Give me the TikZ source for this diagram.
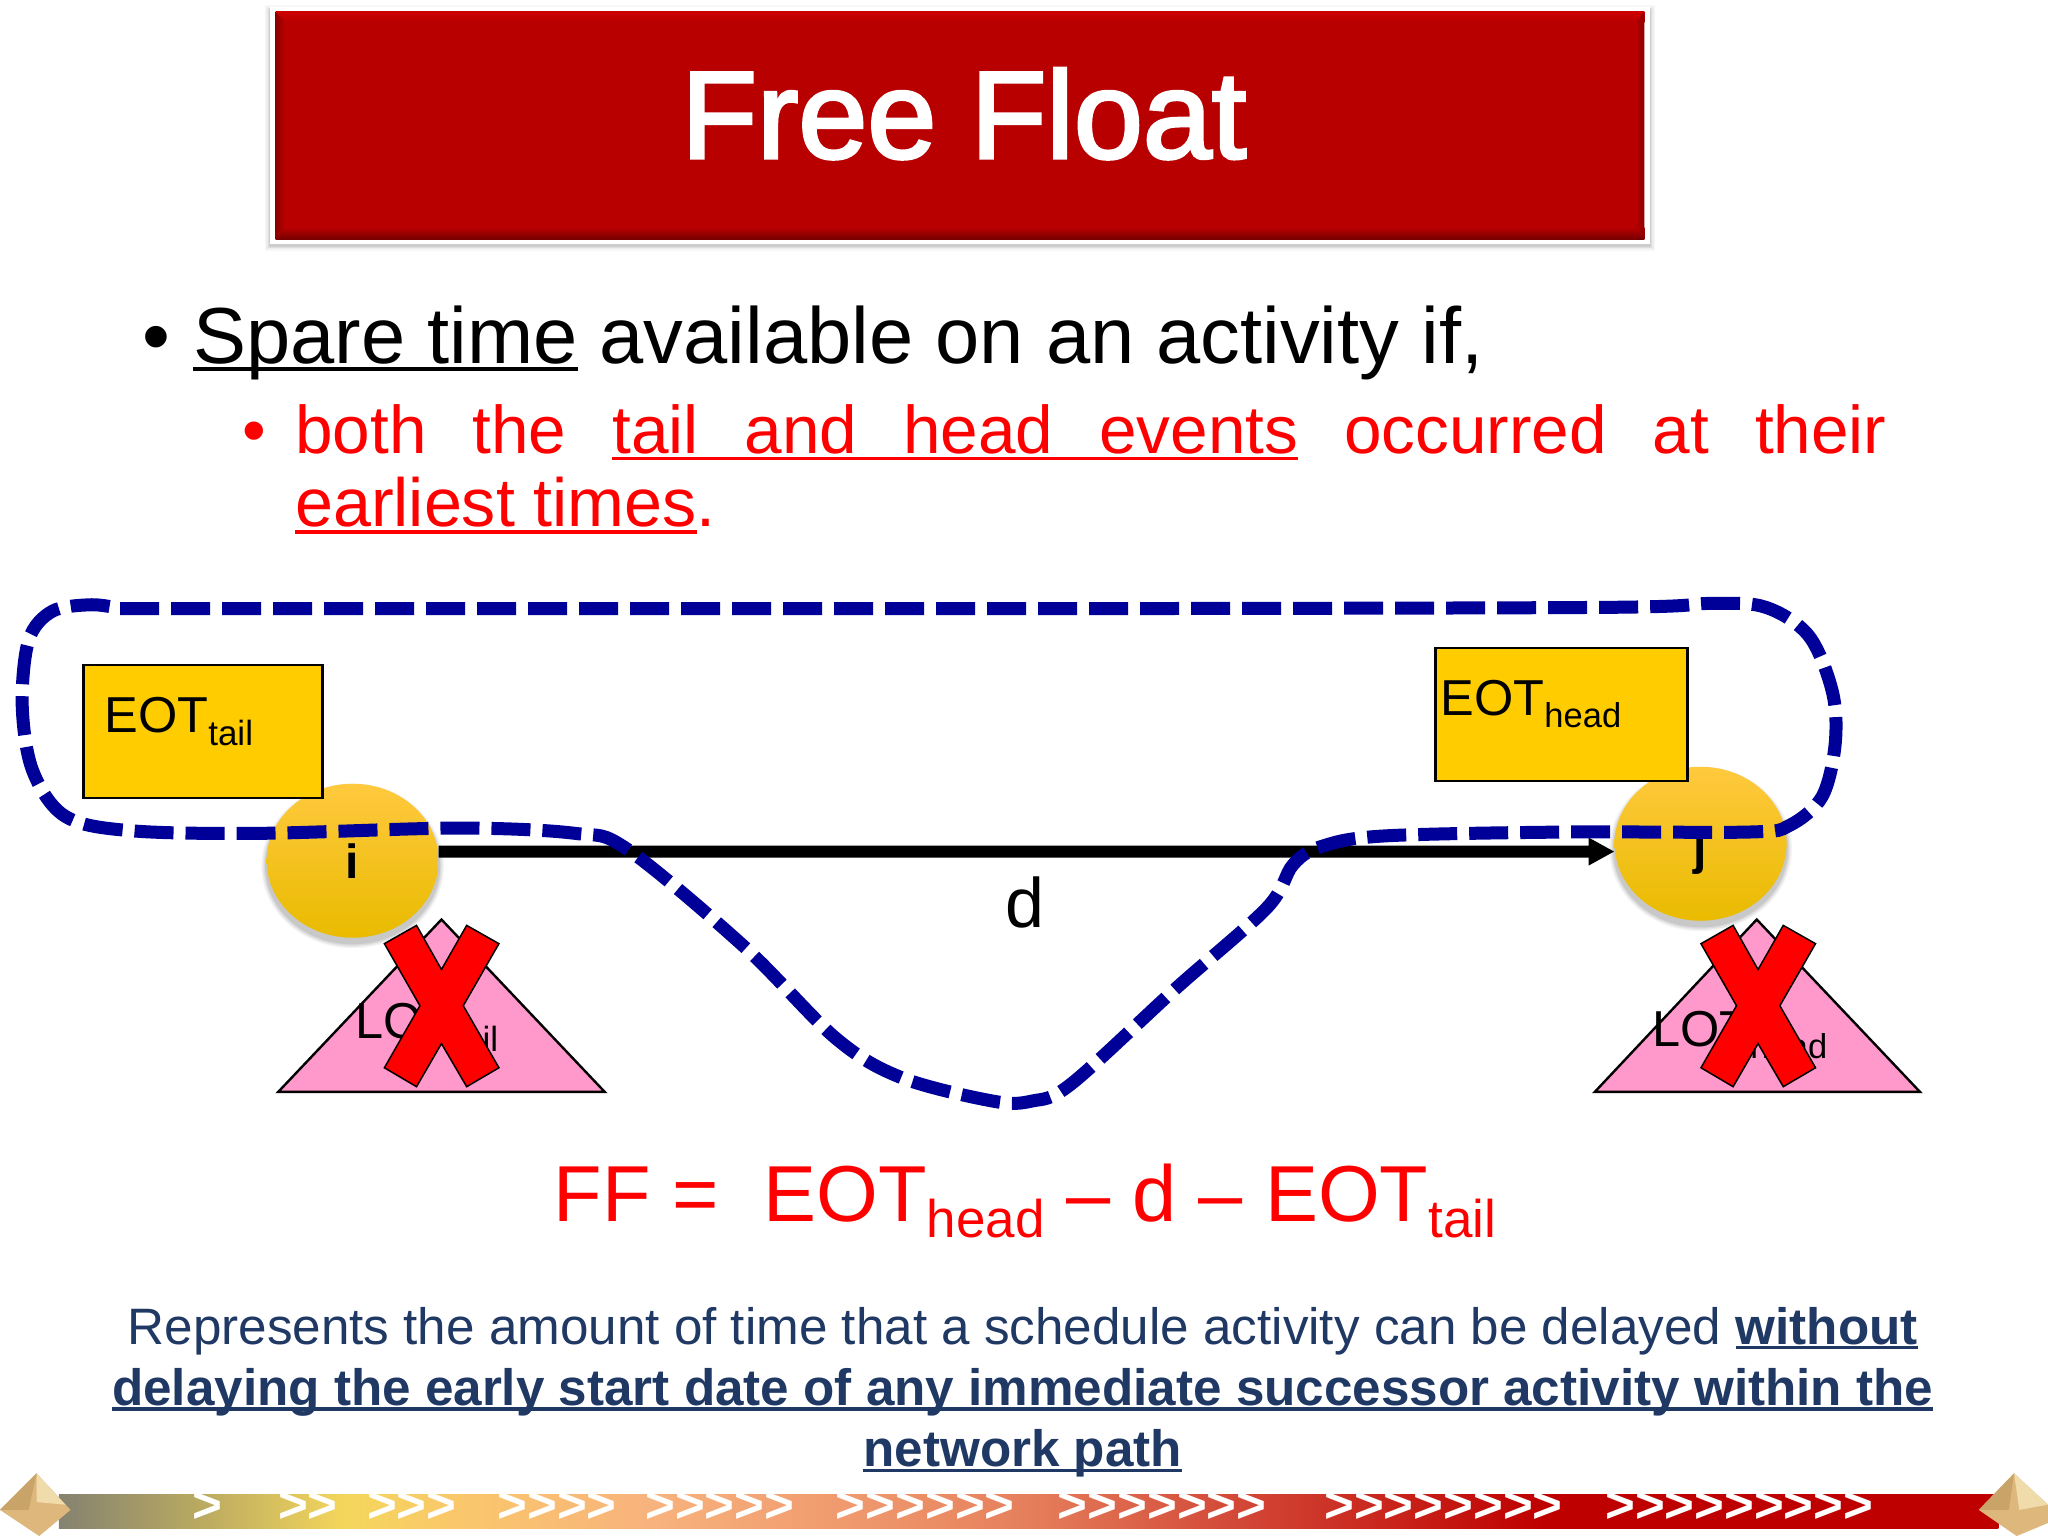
\documentclass[tikz,border=0pt]{standalone}
\usepackage{fontspec}
\setmainfont{Liberation Sans}
\newfontfamily\titlefont[FakeBold=2.5]{Liberation Sans}
\usetikzlibrary{shapes.geometric,arrows.meta}
\definecolor{barred}{HTML}{B80000}
\definecolor{nodegold}{HTML}{FFCC00}
\definecolor{nodetop}{HTML}{FFC93E}
\definecolor{nodebot}{HTML}{E9BB00}
\definecolor{navyline}{HTML}{000099}
\definecolor{slate}{HTML}{1F3864}
\definecolor{pinktri}{HTML}{FF99CC}
\definecolor{gemmid}{HTML}{DDB77C}
\definecolor{gemlight}{HTML}{F0DCAA}
\definecolor{gemdark}{HTML}{C9A468}
\pgfdeclarehorizontalshading{ribbon}{100bp}{
  rgb(0bp)=(0.52,0.51,0.44);
  rgb(25bp)=(0.52,0.51,0.44);
  rgb(28.5bp)=(0.72,0.66,0.38);
  rgb(32.4bp)=(0.96,0.84,0.36);
  rgb(35.3bp)=(0.98,0.78,0.42);
  rgb(40.3bp)=(0.97,0.70,0.49);
  rgb(45.4bp)=(0.94,0.60,0.43);
  rgb(49.9bp)=(0.90,0.50,0.36);
  rgb(54.9bp)=(0.83,0.30,0.23);
  rgb(63.3bp)=(0.745,0,0);
  rgb(75bp)=(0.745,0,0);
  rgb(100bp)=(0.745,0,0)}
\newcommand\myul[2][0.055em]{\leavevmode\setbox0\hbox{#2}\rlap{\rule[-0.105em]{\wd0}{#1}}\box0\relax}
\newcommand\fsz[1]{\fontsize{#1}{#1}\selectfont}
\tikzset{
  txt/.style={inner sep=0,outer sep=0,anchor=base west},
  ctxt/.style={inner sep=0,outer sep=0,anchor=base},
  goldnode/.style={ellipse,inner sep=0,outer sep=0,minimum width=172pt,minimum height=154pt,
    top color=nodetop,middle color=nodegold,bottom color=nodebot,font=\bfseries\fsz{48}},
  goldbox/.style={draw=black,line width=2.4pt,fill=nodegold},
  pinkbox/.style={draw=black,line width=2.4pt,fill=pinktri,line join=miter},
  dashline/.style={draw=navyline,line width=13pt,dash pattern=on 39pt off 12pt},
  chev/.style={inner sep=0,outer sep=0,anchor=base west,text=white,font=\bfseries\fsz{51}},
  redx/.pic={\draw[fill=red,draw=black,line width=1.5pt]
    (-43.7,-47.5)--(-19.1,-61.5)--(0,-27.7)--(19.3,-61.5)--(44,-47.5)--(16.7,0)--(44,47.5)--(19.3,62)--(0,29)--(-19.1,62)--(-43.7,47.5)--(-16.5,0)--cycle;}
}
\begin{document}
\begin{tikzpicture}[x=1.30612pt,y=-1.30612pt]
\useasboundingbox (0,0) rectangle (1568,1176);
\fill[white] (0,0) rectangle (1568,1176);
% title bar
\foreach \o/\a in {4/.03,3/.04,2/.06,1/.08}{\fill[black,opacity=\a] (207-\o,5-\o+3) rectangle (1263+\o,187+\o+1);}
\fill[white] (207,5) rectangle (1263,187);
\fill[barred] (211,9) rectangle (1259,183);
\shade[top color=red!80!black,bottom color=barred] (211,9) rectangle (1259,17);
\shade[top color=barred,bottom color=barred!65!black] (211,174) rectangle (1259,183);
\shade[left color=barred!75!black,right color=barred] (211,9) -- (218,17) -- (218,174) -- (211,183) -- cycle;
\shade[left color=barred,right color=barred!75!black] (1252,17) -- (1259,9) -- (1259,183) -- (1252,174) -- cycle;
\node[ctxt,text=white] (title) at (738,121) {\titlefont\fsz{124}Free Float};
% bullets
\node[txt] (b1) at (109,278) {\fsz{79.5}•};
\node[txt] (l1) at (148,278) {\fsz{79.5}\myul{Spare time} available on an activity if,};
\node[txt,text=red] (b2) at (186,347) {\fsz{67.5}•};
\node[txt,text=red] (l2) at (226,347) {\fsz{67.5}\spaceskip=46pt both the \myul{tail and head events} occurred at their};
\node[txt,text=red] (l3) at (226,403) {\fsz{68.2}\myul{earliest times}.};
% nodes
\foreach \cx/\cy in {270/659,1302/646}{
  \foreach \s/\a in {8/.04,6/.05,4/.06,2/.08}{
    \fill[black,opacity=\a] (\cx,\cy+4) ellipse [x radius=66+\s/2,y radius=59+\s/2];}
}
\node[goldnode] (i) at (270,659) {i};
\node[goldnode] (j) at (1302,646) {\raisebox{-21pt}[0pt][0pt]{j}};
\draw[goldbox] (64,509) rectangle (247,611);
\draw[goldbox] (1099,496) rectangle (1292,598);
\node[txt] (eott) at (80,561) {\fsz{50.5}EOT\raisebox{-13pt}{\fsz{35}tail}};
\node[txt] (eoth) at (1103,548) {\fsz{50.5}EOT\raisebox{-12pt}{\fsz{34.5}head}};
% triangles
\draw[pinkbox] (338,704) -- (463,836) -- (213,836) -- cycle;
\draw[pinkbox] (1345,704) -- (1470,836) -- (1221,836) -- cycle;
\node[txt] (lott) at (272,795) {\fsz{50.5}LOT\raisebox{-13pt}{\fsz{35}tail}};
\node[txt] (loth) at (1265,801) {\fsz{50.5}LOT\raisebox{-12pt}{\fsz{34.5}head}};
\pic at (338,770) {redx};
\pic at (1346,770) {redx};
% arrow
\draw[line width=12pt,-{Triangle[length=26pt,width=26pt]}] ([yshift=9.1pt]i.east) -- ([yshift=-7.8pt]j.west);
\node[ctxt] (d) at (785,710) {\fsz{70}d};
% dashed curve
\draw[dashline] plot[smooth,tension=0.55] coordinates {
 (92,466) (400,466) (800,466) (1230,465) (1310,462) (1352,465) (1385,487) (1403,530) (1405,570) (1395,610) (1370,632) (1340,637)
 (1200,637) (1060,640) (1012,648) (990,662) (970,695) (900,757) (820,830) (790,843) (760,843) (690,825) (640,795) (570,725)
 (480,650) (440,638) (350,634) (200,638) (100,636) (50,625) (25,590) (17,540) (22,490) (40,468) (70,463) (92,466)};
% formula
\node[txt,text=red] (ff) at (424,935) {\fsz{79.4}FF =\hspace{0.556em}EOT\raisebox{-16pt}{\fsz{53}head} – d – EOT\raisebox{-16pt}{\fsz{53}tail}};
% bottom text
\node[ctxt,text=slate] (p1) at (783,1029) {\fsz{51.2}Represents the amount of time that a schedule activity can be delayed \textbf{\myul[0.07em]{without}}};
\node[ctxt,text=slate] (p2) at (783,1076) {\fsz{51.2}\textbf{\myul[0.07em]{delaying the early start date of any immediate successor activity within the}}};
\node[ctxt,text=slate] (p3) at (783,1123) {\fsz{51.2}\textbf{\myul[0.07em]{network path}}};
% ribbon
\shade[shading=ribbon] (45,1144) rectangle (1530,1170);
\node[chev] (c1) at (147,1166) {>};
\node[chev] (c2) at (213,1166) {>{}>};
\node[chev] (c3) at (281,1166) {>{}>{}>};
\node[chev] (c4) at (381,1166) {>{}>{}>{}>};
\node[chev] (c5) at (494,1166) {>{}>{}>{}>{}>};
\node[chev] (c6) at (640,1166) {>{}>{}>{}>{}>{}>};
\node[chev] (c7) at (810,1166) {>{}>{}>{}>{}>{}>{}>};
\node[chev] (c8) at (1014,1166) {>{}>{}>{}>{}>{}>{}>{}>};
\node[chev] (c9) at (1229,1166) {>{}>{}>{}>{}>{}>{}>{}>{}>};
% corner gems
\fill[gemmid] (28,1128) -- (54,1156) -- (30,1176) -- (0,1156) -- cycle;
\fill[gemlight] (28,1128) -- (50,1152) -- (28,1150) -- cycle;
\fill[gemdark] (28,1128) -- (0,1156) -- (22,1156) -- cycle;
\fill[gemmid] (1542,1128) -- (1568,1152) -- (1568,1166) -- (1544,1176) -- (1515,1156) -- cycle;
\fill[gemlight] (1542,1128) -- (1568,1152) -- (1546,1156) -- cycle;
\fill[gemdark] (1542,1128) -- (1515,1156) -- (1538,1156) -- cycle;
\end{tikzpicture}
\end{document}
